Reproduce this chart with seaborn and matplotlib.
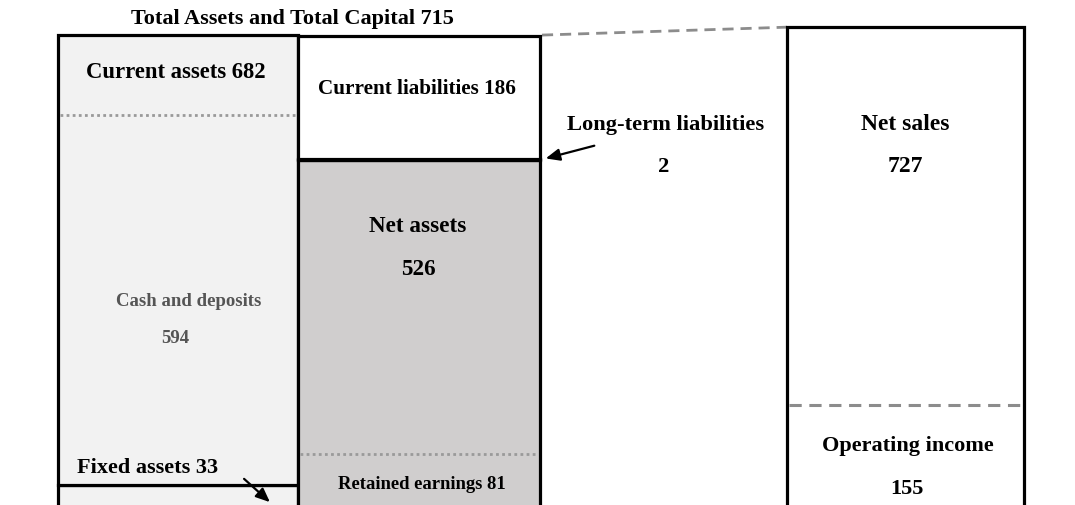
import matplotlib
matplotlib.use("Agg")
import matplotlib.pyplot as plt
import seaborn as sns

# Balance sheet and income figures
asset_items = ["Fixed assets", "Current assets"]
asset_values = [33, 682]
cash_value = 594

capital_items = ["Net assets", "Long-term liabilities", "Current liabilities"]
capital_values = [526, 2, 186]
retained_earnings = 81
total_capital = 715

income_items = ["Operating income", "Net sales"]
operating_income = 155
net_sales = 727

sns.set_theme(style="white")
plt.rcParams["font.family"] = ["Liberation Serif", "DejaVu Serif"]

W, H = 1075, 506
fig = plt.figure(figsize=(W / 100, H / 100), dpi=100)
ax = fig.add_axes([0, 0, 1, 1])
ax.set_xlim(0, W)
ax.set_ylim(3, 3 + H / 0.66)
ax.axis("off")

EDGE = "#000000"
LW = 2.3

# column placement (horizontal layout only)
x_assets, w_assets = 178, 240
x_capital, w_capital = 419, 242
x_income, w_income = 905.5, 237


def py(p):
    """vertical pixel row -> data value"""
    return 3 + (H - p) / 0.66


# assets column: fixed assets at the bottom, current assets on top
bottom = 0
for name, val in zip(asset_items, asset_values):
    ax.bar(x_assets, val, width=w_assets, bottom=bottom, color="#f2f2f2",
           edgecolor=EDGE, linewidth=LW, zorder=2)
    bottom += val

# capital column: net assets, long-term liabilities, current liabilities
cap_colors = ["#d0cece", "#ffffff", "#ffffff"]
bottom = 0
for name, val, c in zip(capital_items, capital_values, cap_colors):
    ax.bar(x_capital, val, width=w_capital, bottom=bottom, color=c,
           edgecolor=EDGE, linewidth=LW, zorder=2)
    bottom += val

# income column
ax.bar(x_income, net_sales, width=w_income, bottom=0, color="#ffffff",
       edgecolor=EDGE, linewidth=LW, zorder=2)

# separators inside columns
ax.plot([x_assets - w_assets / 2 + 2, x_assets + w_assets / 2 - 2],
        [cash_value, cash_value], color="#9a9a9a", lw=2, ls=(0, (1, 1.2)), zorder=3)
ax.plot([x_capital - w_capital / 2 + 2, x_capital + w_capital / 2 - 2],
        [retained_earnings, retained_earnings], color="#9a9a9a", lw=2,
        ls=(0, (1, 1.2)), zorder=3)
ax.plot([x_income - w_income / 2 + 2, x_income + w_income / 2 - 2],
        [operating_income, operating_income], color="#8c8c8c", lw=2.2,
        ls=(0, (4, 2.5)), zorder=3)

# connector from the balance sheet to the income column
ax.plot([x_capital + w_capital / 2 + 2, x_income - w_income / 2],
        [total_capital, net_sales], color="#8c8c8c", lw=2, ls=(0, (4, 2.5)), zorder=1)

bold = dict(fontweight="bold", color="#000000", ha="center", va="center", zorder=4)

ax.text(292, py(19), f"Total Assets and Total Capital {total_capital}", fontsize=16, **bold)
ax.text(176, py(72), f"{asset_items[1]} {asset_values[1]}", fontsize=16.3, **bold)
ax.text(189, py(302), "Cash and deposits", fontsize=13.5, fontweight="bold",
        color="#555555", ha="center", va="center", zorder=4)
ax.text(175, py(339), f"{cash_value}", fontsize=13.5, fontweight="bold",
        color="#555555", ha="center", va="center", zorder=4)
ax.text(148, py(468), f"{asset_items[0]} {asset_values[0]}", fontsize=16, **bold)

ax.text(417, py(89), f"{capital_items[2]} {capital_values[2]}", fontsize=15.2, **bold)
ax.text(418, py(227), capital_items[0], fontsize=16.7, **bold)
ax.text(418, py(270), f"{capital_values[0]}", fontsize=16.7, **bold)
ax.text(422, py(485), f"Retained earnings {retained_earnings}", fontsize=13.4, **bold)

ax.text(666, py(125), capital_items[1], fontsize=16.2, **bold)
ax.text(664, py(167), f"{capital_values[1]}", fontsize=16.2, **bold)

ax.text(905, py(125), income_items[1], fontsize=17, **bold)
ax.text(905, py(167), f"{net_sales}", fontsize=17, **bold)
ax.text(908, py(446), income_items[0], fontsize=16, **bold)
ax.text(907, py(489), f"{operating_income}", fontsize=16, **bold)

# arrows
arrow = dict(arrowstyle="-|>,head_length=0.7,head_width=0.3", color="#000000", lw=1.6)
ax.annotate("", xy=(x_capital + w_capital / 2 + 3, capital_values[0] + capital_values[1] / 2),
            xytext=(597, py(146)), arrowprops=arrow, zorder=5, annotation_clip=False)
ax.annotate("", xy=(272, py(505)), xytext=(242, py(478)),
            arrowprops=arrow, zorder=5, annotation_clip=False)

fig.savefig("out.png", dpi=100, facecolor="white")
